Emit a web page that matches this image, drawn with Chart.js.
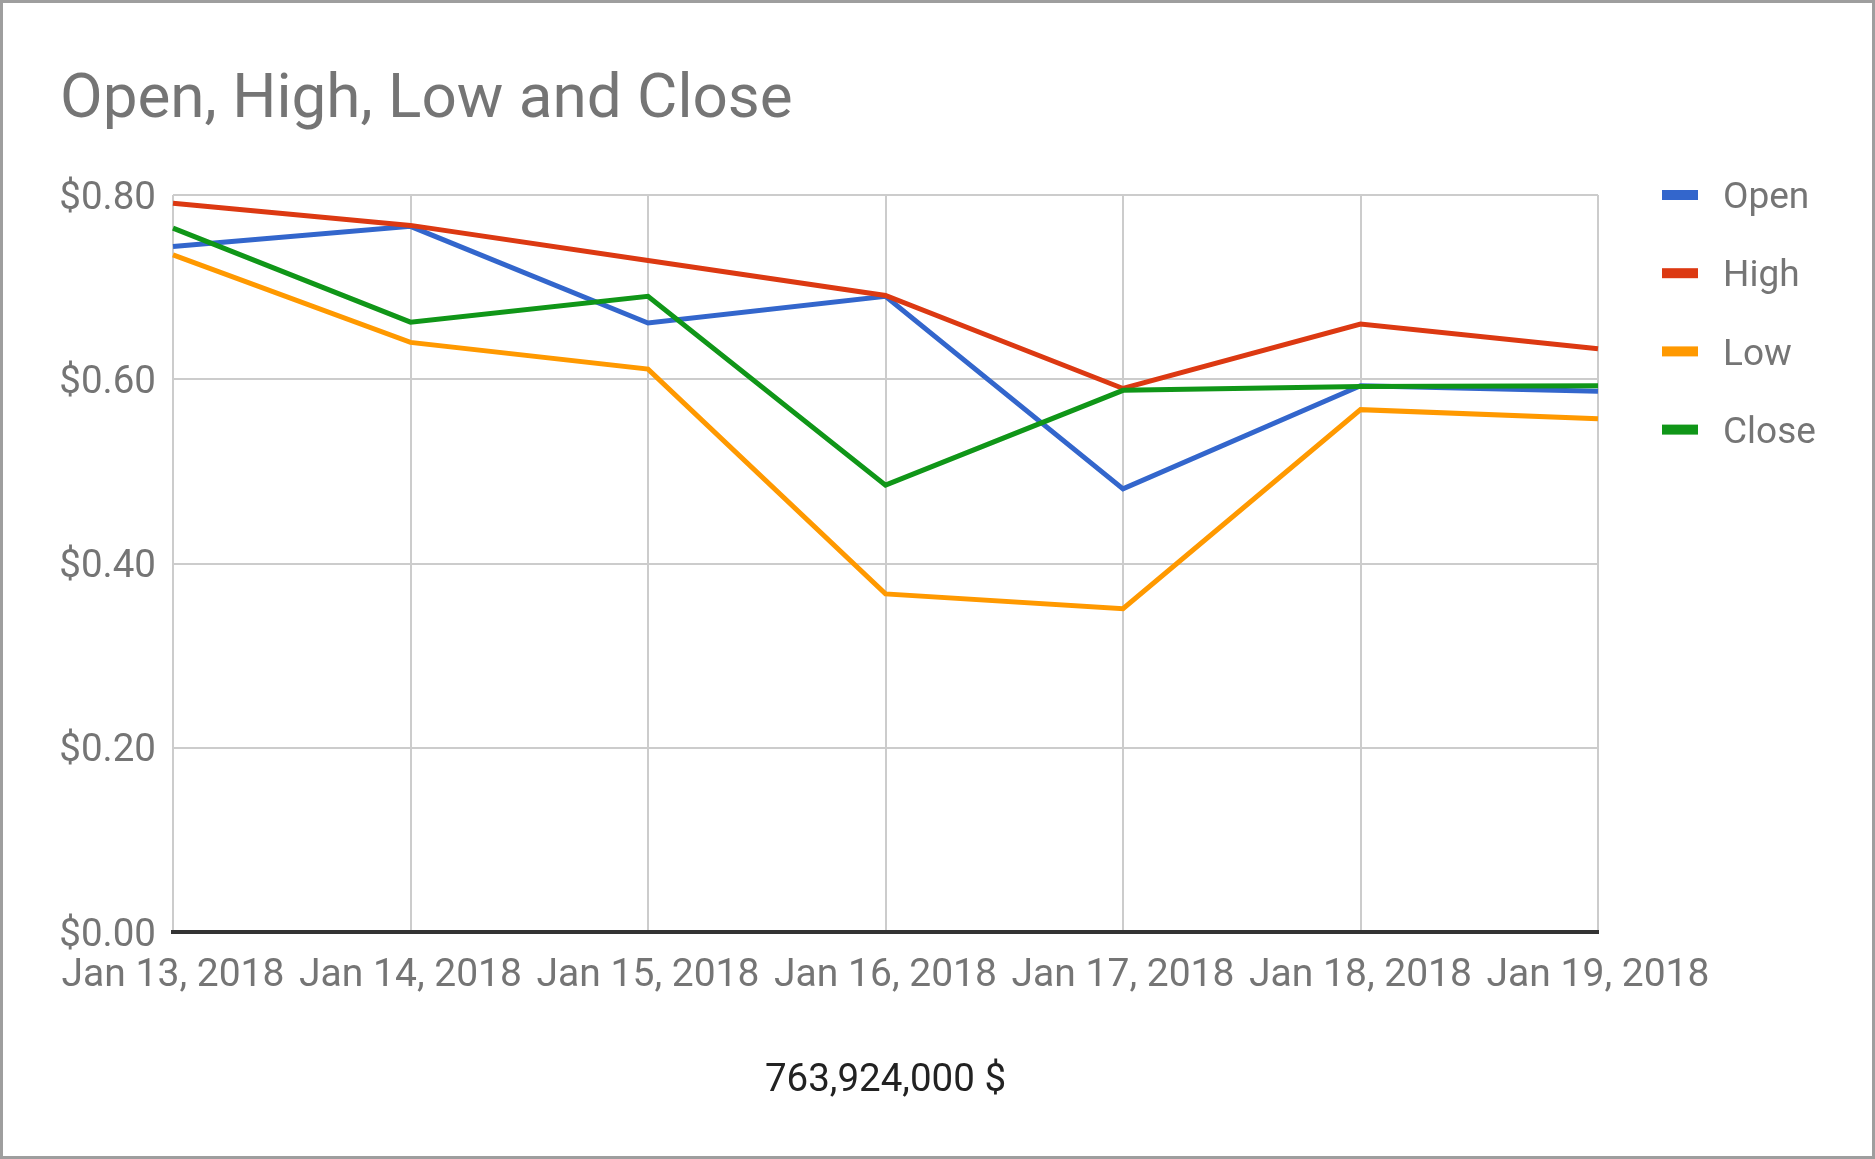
<!DOCTYPE html>
<html>
<head>
<meta charset="utf-8">
<script src="https://cdn.jsdelivr.net/npm/chart.js@4/dist/chart.umd.min.js"></script>
<style>
  html, body { margin: 0; padding: 0; background: #ffffff; }
  #wrap { position: relative; width: 1875px; height: 1159px; }
  #frame { position: absolute; left: 0; top: 0; width: 1875px; height: 1159px; box-sizing: border-box; border: 3px solid #9e9e9e; pointer-events: none; }
  canvas { position: absolute; left: 0; top: 0; }
</style>
</head>
<body>
<div id="wrap">
  <canvas id="c" width="1875" height="1159"></canvas>
  <div id="frame"></div>
</div>
<script>
const chartTitle = 'Open, High, Low and Close';
const xAxisTitle = '763,924,000 $';
const categories = ['Jan 13, 2018', 'Jan 14, 2018', 'Jan 15, 2018', 'Jan 16, 2018', 'Jan 17, 2018', 'Jan 18, 2018', 'Jan 19, 2018'];
const seriesNames = ['Open', 'High', 'Low', 'Close'];
const openValues  = [0.744, 0.766, 0.661, 0.690, 0.481, 0.593, 0.587];
const highValues  = [0.791, 0.767, 0.729, 0.691, 0.590, 0.660, 0.633];
const lowValues   = [0.735, 0.640, 0.611, 0.367, 0.351, 0.567, 0.557];
const closeValues = [0.764, 0.662, 0.690, 0.485, 0.588, 0.592, 0.593];
const yTicks = [0, 0.2, 0.4, 0.6, 0.8];
const seriesColors = ['#3366cc', '#dc3912', '#ff9900', '#109618'];

const FONT = 'Roboto';
const seriesValues = [openValues, highValues, lowValues, closeValues];

const datasets = seriesNames.map((name, i) => ({
  label: name,
  data: seriesValues[i],
  borderColor: seriesColors[i],
  backgroundColor: seriesColors[i],
  borderWidth: 5,
  pointRadius: 0,
  pointHoverRadius: 0,
  tension: 0,
  fill: false,
  order: seriesNames.length - i
}));

const sideLegend = {
  id: 'sideLegend',
  afterDraw(chart) {
    const ctx = chart.ctx;
    ctx.save();
    ctx.font = '37px ' + FONT;
    ctx.textBaseline = 'middle';
    ctx.textAlign = 'left';
    chart.data.datasets.forEach((ds, i) => {
      const cy = 195 + i * 78.2;
      ctx.fillStyle = ds.borderColor;
      ctx.fillRect(1662, cy - 5, 36, 10);
      ctx.fillStyle = '#757575';
      ctx.fillText(ds.label, 1723, cy + 4);
    });
    ctx.restore();
  }
};

const bg = {
  id: 'bg',
  beforeDraw(chart) {
    const ctx = chart.ctx;
    ctx.save();
    ctx.fillStyle = '#ffffff';
    ctx.fillRect(0, 0, chart.width, chart.height);
    ctx.restore();
  }
};

new Chart(document.getElementById('c'), {
  type: 'line',
  data: { labels: categories, datasets: datasets },
  plugins: [bg, sideLegend],
  options: {
    responsive: false,
    devicePixelRatio: 1,
    animation: false,
    layout: { padding: { left: 60, right: 277, top: 0, bottom: 0 } },
    plugins: {
      legend: { display: false },
      tooltip: { enabled: false },
      title: {
        display: true,
        text: chartTitle,
        align: 'start',
        color: '#757575',
        font: { family: FONT, size: 62, weight: 'normal', lineHeight: 1.2 },
        padding: { top: 64, bottom: 56.6 }
      }
    },
    scales: {
      x: {
        type: 'category',
        offset: false,
        grid: { color: '#cccccc', lineWidth: 2, drawTicks: false },
        border: { display: true, color: '#333333', width: 4 },
        ticks: {
          color: '#757575',
          font: { family: FONT, size: 39 },
          padding: 20.5,
          maxRotation: 0,
          autoSkip: false
        },
        title: {
          display: true,
          text: xAxisTitle,
          color: '#222222',
          font: { family: FONT, size: 38.5 },
          padding: { top: 0, bottom: 55 }
        },
        afterFit(scale) { scale.height = 227; }
      },
      y: {
        min: 0,
        max: 0.8,
        afterBuildTicks(scale) { scale.ticks = yTicks.map(v => ({ value: v })); },
        grid: { color: '#cccccc', lineWidth: 2, drawTicks: false },
        border: { display: false },
        ticks: {
          color: '#757575',
          font: { family: FONT, size: 38.5 },
          padding: 17,
          labelOffset: 4,
          callback: (v) => '$' + Number(v).toFixed(2)
        },
        afterFit(scale) { scale.width = 113; }
      }
    }
  }
});
</script>
</body>
</html>
